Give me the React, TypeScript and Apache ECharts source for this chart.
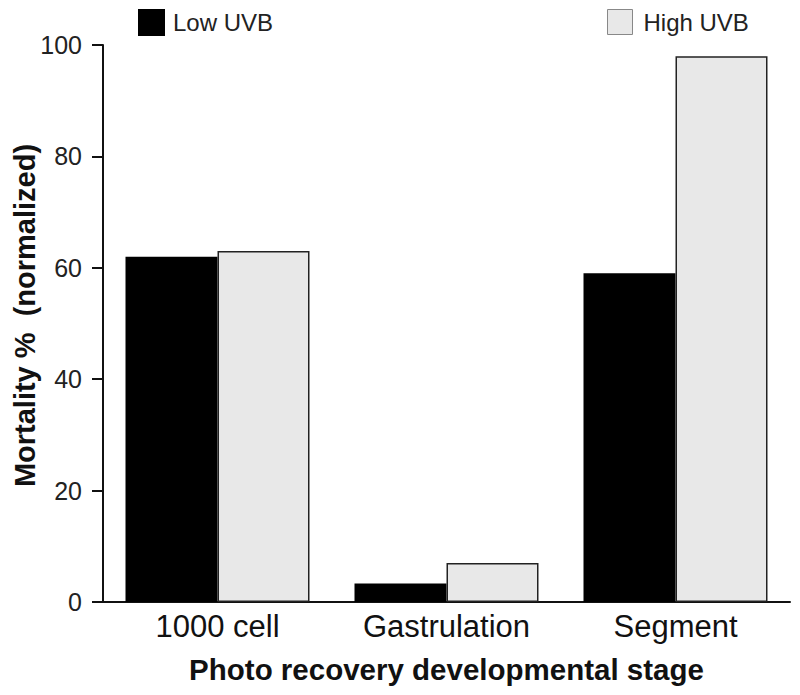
import React, { useEffect, useRef } from "react";
import * as echarts from "echarts";

const categories = ["1000 cell", "Gastrulation", "Segment"];
const lowUVB = [62, 3.3, 59];
const highUVB = [63, 7, 98];
const yTicks = { min: 0, max: 100, interval: 20 };

export default function App() {
  const ref = useRef<HTMLDivElement>(null);
  useEffect(() => {
    if (!ref.current) return;
    const chart = echarts.init(ref.current, undefined, { renderer: "svg" });
    const font = "Liberation Sans, Arial, sans-serif";
    chart.setOption({
      animation: false,
      textStyle: { fontFamily: font },
      grid: {
        left: 103,
        right: 10,
        top: 45,
        bottom: 93,
        containLabel: false,
        outerBoundsMode: "none",
      },
      legend: [
        {
          data: ["Low UVB"],
          left: 138,
          top: 9,
          padding: 0,
          itemWidth: 25,
          itemHeight: 25,
          icon: "rect",
          textStyle: { fontSize: 24, color: "#222", fontFamily: font, padding: [7, 0, 0, 4] },
        },
        {
          data: ["High UVB"],
          left: 607,
          top: 9,
          padding: 0,
          itemWidth: 25,
          itemHeight: 25,
          icon: "rect",
          itemStyle: { borderColor: "#888", borderWidth: 1 },
          textStyle: { fontSize: 24, color: "#222", fontFamily: font, padding: [7, 0, 0, 6] },
        },
      ],
      xAxis: {
        type: "category",
        data: categories,
        name: "Photo recovery developmental stage",
        nameLocation: "middle",
        nameGap: 52,
        nameMoveOverlap: false,
        nameTextStyle: { fontSize: 29.5, fontWeight: "bold", color: "#111", fontFamily: font },
        axisLine: { lineStyle: { color: "#111", width: 2 } },
        axisTick: { show: false },
        axisLabel: { fontSize: 31, color: "#111", margin: 9, fontFamily: font },
      },
      yAxis: {
        type: "value",
        min: yTicks.min,
        max: yTicks.max,
        interval: yTicks.interval,
        name: "Mortality %  (normalized)",
        nameLocation: "middle",
        nameGap: 64,
        nameMoveOverlap: false,
        nameTextStyle: {
          fontSize: 29,
          fontWeight: "bold",
          color: "#111",
          fontFamily: font,
          padding: [0, 0, 0, 16],
        },
        axisLine: { show: true, lineStyle: { color: "#111", width: 2 } },
        axisTick: { show: true, length: 11, lineStyle: { color: "#111", width: 2 } },
        axisLabel: { fontSize: 25, color: "#222", margin: 21, fontFamily: font },
        splitLine: { show: false },
      },
      series: [
        {
          name: "Low UVB",
          type: "bar",
          data: lowUVB,
          barWidth: 92,
          barGap: "0%",
          itemStyle: { color: "#000", borderColor: "#000", borderWidth: 1.5 },
        },
        {
          name: "High UVB",
          type: "bar",
          data: highUVB,
          barWidth: 92,
          barGap: "0%",
          itemStyle: { color: "#e8e8e8", borderColor: "#222", borderWidth: 1.5 },
        },
      ],
    });
    return () => chart.dispose();
  }, []);
  return <div ref={ref} style={{ width: 800, height: 695, position: "absolute", left: 0, top: 0 }} />;
}
